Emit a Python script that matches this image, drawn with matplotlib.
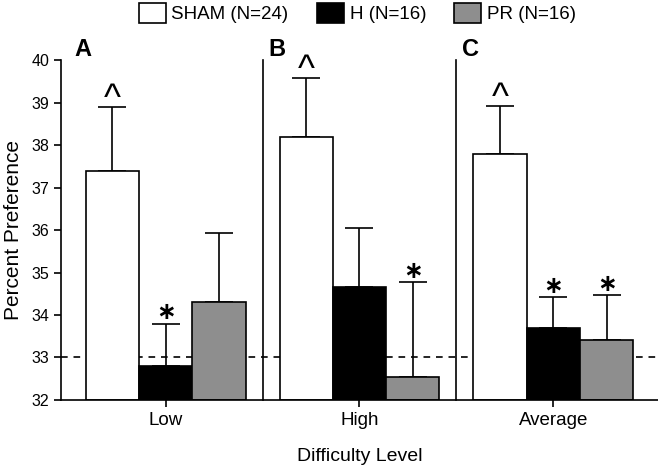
import numpy as np
import matplotlib
matplotlib.use("Agg")
import matplotlib.pyplot as plt
from matplotlib.patches import Patch

plt.rcParams['font.family'] = ['Liberation Sans', 'DejaVu Sans']

# Data
levels = ["Low", "High", "Average"]
groups = ["SHAM (N=24)", "H (N=16)", "PR (N=16)"]
colors = ["white", "black", "#8e8e8e"]
sham = [37.4, 38.2, 37.8]
h = [32.8, 34.65, 33.7]
pr = [34.3, 32.55, 33.42]
sham_err = [1.5, 1.38, 1.12]
h_err = [1.0, 1.4, 0.72]
pr_err = [1.63, 2.23, 1.05]
# significance marks above each bar ("" for none)
sham_marks = ["^", "^", "^"]
h_marks = ["*", "", "*"]
pr_marks = ["", "*", "*"]
panel_letters = ["A", "B", "C"]
chance = 33

WIDTH = 0.275

fig = plt.figure(figsize=(6.58, 4.65), dpi=100)
ax = fig.add_axes([0.0927, 0.14, 0.9073, 0.73])

x = np.arange(len(levels))
series = [(sham, sham_err, sham_marks), (h, h_err, h_marks), (pr, pr_err, pr_marks)]
for i, (vals, errs, marks) in enumerate(series):
    pos = x + (i - 1) * WIDTH
    ax.bar(pos, np.array(vals) - 32, bottom=32, width=WIDTH, color=colors[i],
           edgecolor="black", linewidth=1.2, zorder=2)
    ax.errorbar(pos, vals, yerr=[np.zeros(len(vals)), errs], fmt="none",
                ecolor="black", elinewidth=1.2, capsize=10, capthick=1.2, zorder=1)
    for p, v, e, m in zip(pos, vals, errs, marks):
        if m == "^":
            ax.text(p, v + e - 0.05, "^", ha="center", va="baseline",
                    fontsize=26)
        elif m == "*":
            ax.text(p, v + e - 0.02, "\u2217", ha="center", va="bottom",
                    fontsize=17, family="DejaVu Sans", fontweight="bold")

# separators between panels
for s in x[:-1] + 0.5:
    ax.plot([s, s], [32, 40], color="black", lw=1.2, clip_on=False)

ax.axhline(chance, color="black", lw=1.2, ls=(0, (4, 3.5)), zorder=0)

for xi, letter in zip(x, panel_letters):
    ax.text(xi - 0.47, 40.1, letter, fontsize=17, fontweight="bold",
            ha="left", va="baseline", clip_on=False)

ax.set_xlim(-0.54, 2.54)
ax.set_ylim(32, 40)
ax.set_yticks(range(32, 41))
ax.set_xticks(x)
ax.set_xticklabels(levels)
ax.tick_params(axis="y", labelsize=11.5, width=1.2, length=5)
ax.tick_params(axis="x", labelsize=13.5, width=1.2, length=5)
ax.spines["top"].set_visible(False)
ax.spines["right"].set_visible(False)
ax.spines["left"].set_linewidth(1.2)
ax.spines["bottom"].set_linewidth(1.2)
ax.set_ylabel("Percent Preference", fontsize=15, labelpad=6)
ax.set_xlabel("Difficulty Level", fontsize=14, labelpad=14)

handles = [Patch(facecolor=c, edgecolor="black", linewidth=1.2) for c in colors]
fig.legend(handles, groups, loc="center", bbox_to_anchor=(0.543, 0.972), ncol=3,
           frameon=False, fontsize=13.5, handlelength=1.45, handleheight=1.25,
           handletextpad=0.3, columnspacing=1.5, borderpad=0)

fig.savefig("out.png", dpi=100)
